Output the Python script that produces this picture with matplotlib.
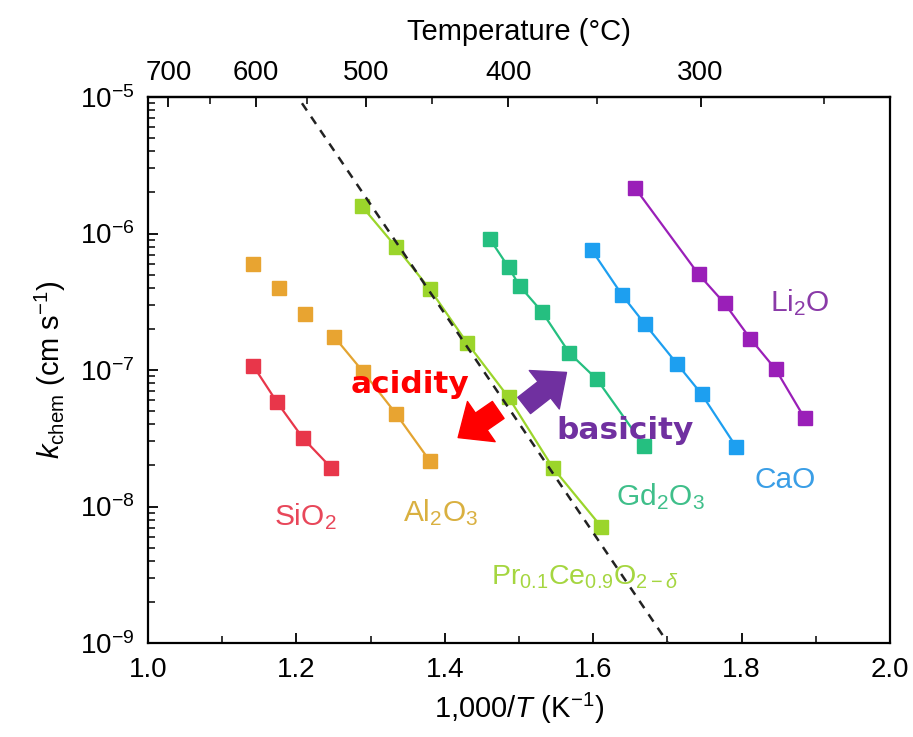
import numpy as np
import matplotlib
matplotlib.use("Agg")
import matplotlib.pyplot as plt
from matplotlib.ticker import FixedLocator, NullFormatter, LogLocator

plt.rcParams['font.family'] = ['Liberation Sans', 'DejaVu Sans']
plt.rcParams['mathtext.fontset'] = 'custom'
plt.rcParams['mathtext.rm'] = 'Liberation Sans'
plt.rcParams['mathtext.it'] = 'Liberation Sans:italic'
plt.rcParams['mathtext.bf'] = 'Liberation Sans:bold'

# -- data (x = 1000/T, y = k_chem in cm/s)
sio2_x = [1.142, 1.174, 1.209, 1.247]
sio2_y = [1.07e-7, 5.8e-8, 3.16e-8, 1.92e-8]

al2o3_x = [1.142, 1.176, 1.212, 1.251, 1.290, 1.334, 1.380]
al2o3_y = [5.98e-7, 4.01e-7, 2.57e-7, 1.75e-7, 9.7e-8, 4.8e-8, 2.15e-8]

pr_x = [1.288, 1.334, 1.380, 1.430, 1.486, 1.546, 1.611]
pr_y = [1.59e-6, 8.0e-7, 3.9e-7, 1.58e-7, 6.3e-8, 1.91e-8, 7.1e-9]

gd_x = [1.461, 1.486, 1.501, 1.531, 1.568, 1.605, 1.669]
gd_y = [9.07e-7, 5.65e-7, 4.12e-7, 2.67e-7, 1.33e-7, 8.55e-8, 2.77e-8]

cao_x = [1.598, 1.639, 1.670, 1.713, 1.746, 1.793]
cao_y = [7.57e-7, 3.54e-7, 2.16e-7, 1.11e-7, 6.67e-8, 2.72e-8]

li2o_x = [1.656, 1.742, 1.777, 1.812, 1.846, 1.885]
li2o_y = [2.17e-6, 5.03e-7, 3.08e-7, 1.69e-7, 1.01e-7, 4.43e-8]

fit_x = [1.2075, 1.7008]
fit_y = [9.0e-6, 1.0e-9]

temp_major = [700, 600, 500, 400, 300]
temp_minor = [650, 550, 450, 350, 250]

fig = plt.figure(figsize=(9.13, 7.37), dpi=100)
ax = fig.add_axes([0.1621, 0.1275, 0.8127, 0.7409])

ms = 10.5
ax.plot(fit_x, fit_y, ls=(0, (3.5, 3)), color='#222222', lw=1.8, zorder=4)

ax.plot(sio2_x, sio2_y, '-s', color='#e8364a', ms=ms, lw=1.6)
# first three alumina points are not joined by the line
ax.plot(al2o3_x[3:], al2o3_y[3:], '-', color='#e3a431', lw=1.6)
ax.plot(al2o3_x, al2o3_y, 's', color='#e8a431', ms=ms)
ax.plot(pr_x, pr_y, '-s', color='#9bd52b', ms=ms, lw=1.6)
ax.plot(gd_x, gd_y, '-s', color='#25bf80', ms=ms, lw=1.6)
ax.plot(cao_x, cao_y, '-s', color='#1d9ff0', ms=ms, lw=1.6)
ax.plot(li2o_x, li2o_y, '-s', color='#9a1fb8', ms=ms, lw=1.6)

ax.set_yscale('log')
ax.set_xlim(1.0, 2.0)
ax.set_ylim(1e-9, 1e-5)

lfs = 21.5
ax.text(1.2116, 8.5e-9, r'SiO$_2$', color='#e8475a', fontsize=lfs, ha='center', va='center')
ax.text(1.394, 9.1e-9, r'Al$_2$O$_3$', color='#d9b040', fontsize=lfs, ha='center', va='center')
ax.text(1.589, 3.05e-9, r'Pr$_{0.1}$Ce$_{0.9}$O$_{2-\delta}$', color='#a5d640',
        fontsize=20.5, ha='center', va='center')
ax.text(1.690, 1.18e-8, r'Gd$_2$O$_3$', color='#3fbf8a', fontsize=lfs, ha='center', va='center')
ax.text(1.858, 1.56e-8, 'CaO', color='#3a9ee6', fontsize=lfs, ha='center', va='center')
ax.text(1.879, 3.1e-7, r'Li$_2$O', color='#8a3aa8', fontsize=lfs, ha='center', va='center')

ax.text(1.353, 7.8e-8, 'acidity', color='#ff0000', fontsize=22.5, fontweight='bold',
        family=['DejaVu Sans'], ha='center', va='center')
ax.text(1.643, 3.6e-8, 'basicity', color='#7030a0', fontsize=22.5, fontweight='bold',
        family=['DejaVu Sans'], ha='center', va='center')

astyle = 'simple,head_length=0.75,head_width=1.3,tail_width=0.55'
ax.annotate('', xy=(1.418, 3.2e-8), xytext=(1.472, 5.1e-8),
            arrowprops=dict(arrowstyle=astyle, color='#ff0000', mutation_scale=27,
                            shrinkA=0, shrinkB=0))
ax.annotate('', xy=(1.564, 9.6e-8), xytext=(1.507, 5.5e-8),
            arrowprops=dict(arrowstyle=astyle, color='#7030a0', mutation_scale=27,
                            shrinkA=0, shrinkB=0))

# ticks
ax.set_xticks([1.0, 1.2, 1.4, 1.6, 1.8, 2.0])
ax.set_xticks([1.1, 1.3, 1.5, 1.7, 1.9], minor=True)
ax.set_xticklabels(['1.0', '1.2', '1.4', '1.6', '1.8', '2.0'])
ax.yaxis.set_major_locator(LogLocator(base=10, numticks=10))
ax.yaxis.set_minor_locator(LogLocator(base=10, subs=np.arange(2, 10), numticks=20))
ax.yaxis.set_minor_formatter(NullFormatter())
ax.tick_params(axis='both', which='both', direction='in', labelsize=20, top=False, right=False)
ax.tick_params(axis='both', which='major', length=7, width=1.3, pad=10)
ax.tick_params(axis='both', which='minor', length=5, width=1.1)
for sp in ax.spines.values():
    sp.set_linewidth(1.6)

ax.set_xlabel(r'1,000/$T$ (K$^{-1}$)', fontsize=21, labelpad=6)
ax.set_ylabel(r'$k_{\rm chem}$ (cm s$^{-1}$)', fontsize=21, labelpad=8)

# top axis in degrees Celsius
def inv_to_c(x):
    x = np.asarray(x, dtype=float)
    with np.errstate(divide='ignore'):
        return 1000.0 / x - 273.15

def c_to_inv(c):
    c = np.asarray(c, dtype=float)
    with np.errstate(divide='ignore'):
        return 1000.0 / (c + 273.15)

top = ax.secondary_xaxis('top', functions=(inv_to_c, c_to_inv))
top.xaxis.set_major_locator(FixedLocator(temp_major))
top.xaxis.set_minor_locator(FixedLocator(temp_minor))
top.set_xticklabels([str(t) for t in temp_major])
top.tick_params(which='both', direction='in', labelsize=20)
top.tick_params(which='major', length=7, width=1.3, pad=8)
top.tick_params(which='minor', length=5, width=1.1)
top.set_xlabel('Temperature (°C)', fontsize=21, labelpad=14)
top.spines['top'].set_linewidth(1.6)

fig.savefig('out.png', dpi=100)
